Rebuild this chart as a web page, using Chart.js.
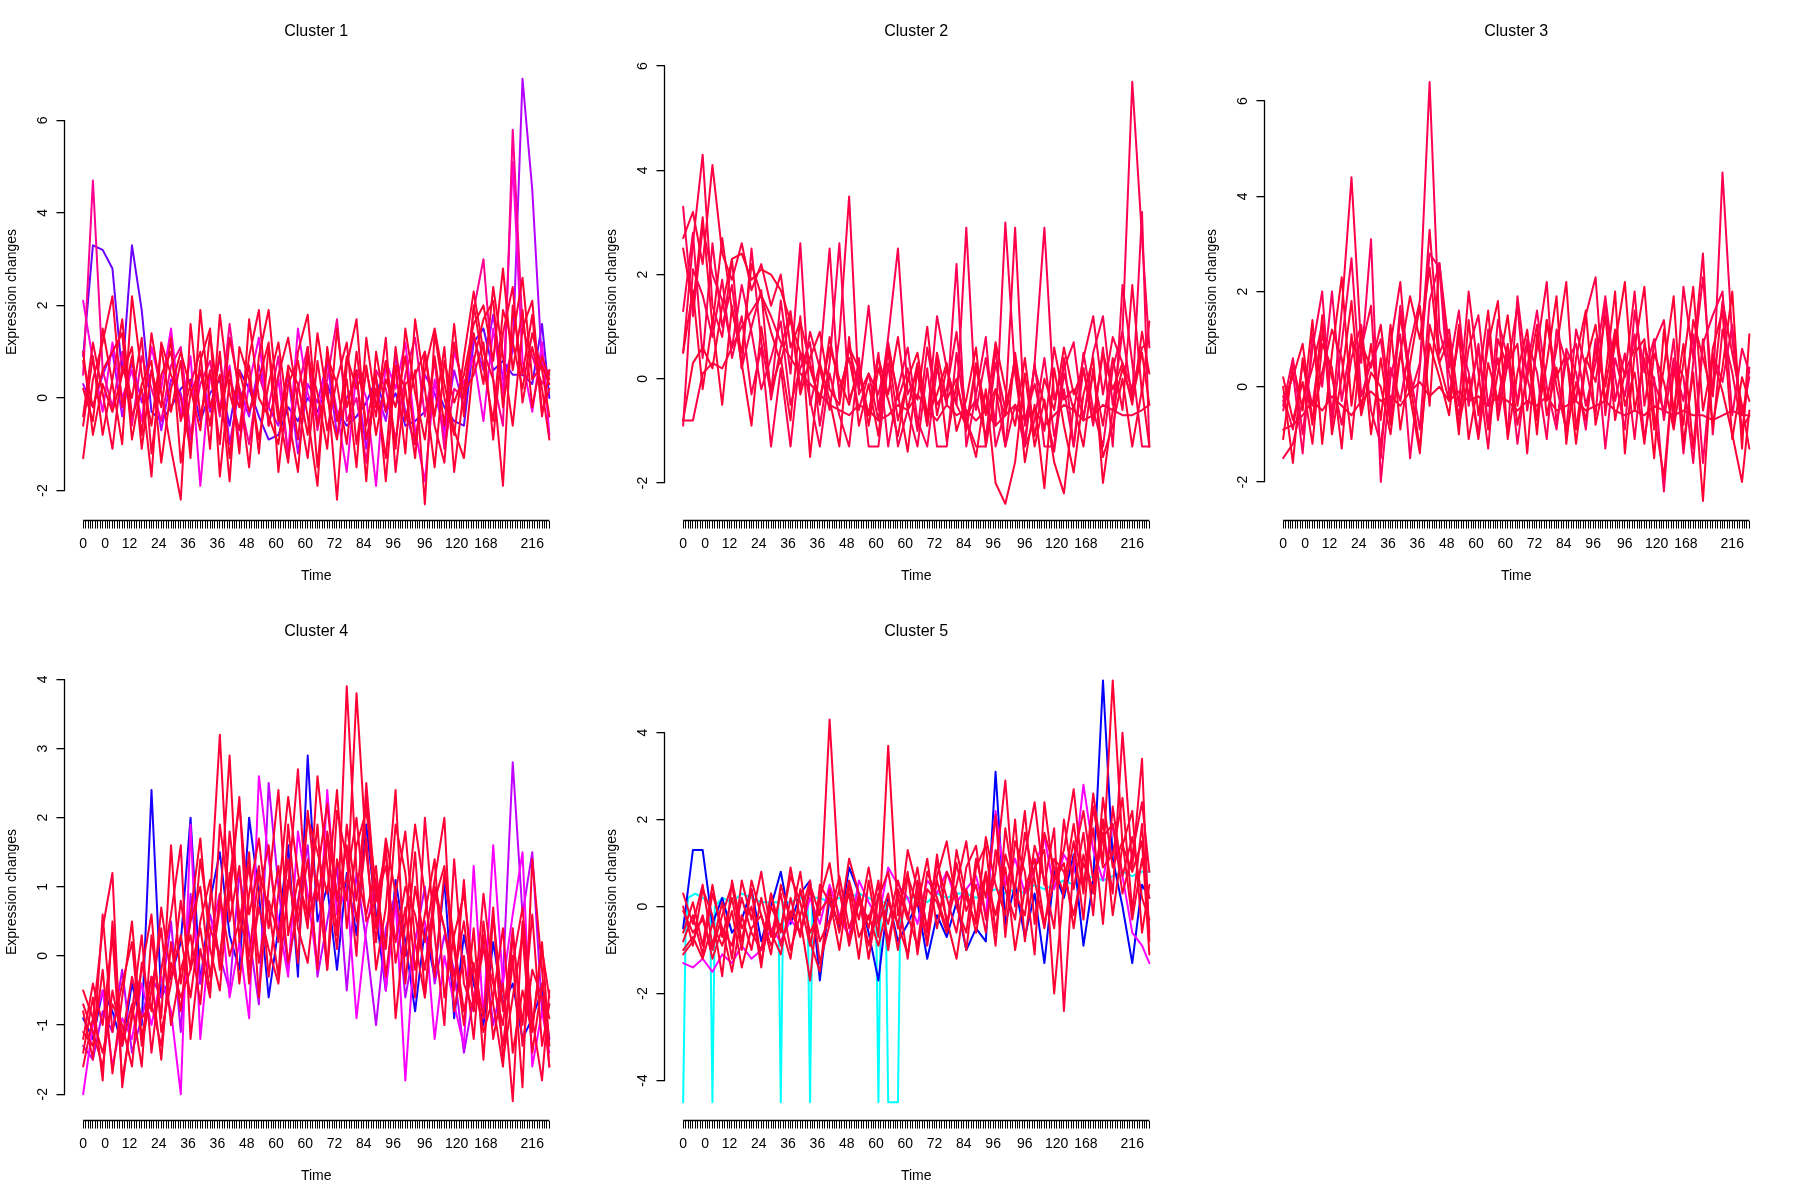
<!DOCTYPE html>
<html>
<head>
<meta charset="utf-8">
<title>Cluster expression changes</title>
<script src="https://cdn.jsdelivr.net/npm/chart.js@4.4.1/dist/chart.umd.min.js"></script>
<style>
  html, body { margin: 0; padding: 0; background: #fff; }
  #wrap { position: relative; width: 1800px; height: 1200px; }
  .panel { position: absolute; width: 600px; height: 600px; }
</style>
</head>
<body>
<div id="wrap">
  <div class="panel" style="left:0;top:0"><canvas id="c1" width="600" height="600"></canvas></div>
  <div class="panel" style="left:600px;top:0"><canvas id="c2" width="600" height="600"></canvas></div>
  <div class="panel" style="left:1200px;top:0"><canvas id="c3" width="600" height="600"></canvas></div>
  <div class="panel" style="left:0;top:600px"><canvas id="c4" width="600" height="600"></canvas></div>
  <div class="panel" style="left:600px;top:600px"><canvas id="c5" width="600" height="600"></canvas></div>
</div>
<script>
// time axis: 192 samples, values read every 4th sample
const nTimePoints = 192;
const sampleStep = 4;
const tickLabelIdx = [0, 9, 19, 31, 43, 55, 67, 79, 91, 103, 115, 127, 140, 153, 165, 184];
const tickLabelText = ['0', '0', '12', '24', '36', '36', '48', '60', '60', '72', '84', '96', '96', '120', '168', '216'];

// Cluster 1
const c1Violet = [0.9, 3.3, 3.2, 2.8, 0.5, 3.3, 1.9, -0.3, -0.5, -0.2,
  0.2, 0.4, -0.5, 0.1, 0.4, -0.6, 0.6, 0.2, -0.4, -0.9,
  -0.8, -0.2, -0.5, 0.0, -0.3, 0.3, -0.3, -0.6, -0.4, -0.1,
  0.4, -0.3, 0.1, -0.6, -0.5, -0.3, 0.3, -0.2, -0.5, -0.6,
  1.2, 1.5, 0.6, 0.8, 0.5, 0.5, 0.3, 1.6, 0.0];
const c1Purple = [0.3, -0.2, 0.5, 1.0, -0.4, 0.8, -0.1, 0.6, -0.7, 0.4,
  0.1, -0.9, 0.6, -0.3, 0.9, -1.0, 0.2, -0.4, 0.7, -0.2,
  -0.6, 0.5, -1.2, 0.3, -0.1, 0.8, -0.8, 0.0, 0.4, -1.1,
  0.2, -0.5, 0.9, -0.3, -1.0, 0.5, 0.1, -0.7, 0.6, -0.2,
  1.3, 0.6, 1.8, 0.4, 1.0, 6.9, 4.5, 0.7, 0.5];
const c1Magenta = [2.1, 0.8, -0.3, 1.2, 0.0, 0.6, -0.5, 1.1, 0.2, 1.5,
  -0.4, 0.9, -1.9, 0.5, -0.2, 0.7, -1.0, 0.3, 1.3, -0.6,
  0.4, -1.2, 1.5, 0.1, -0.5, 0.9, -0.3, -1.6, 0.6, 0.0,
  -1.9, 0.8, 0.2, 1.2, -0.7, -1.8, 0.4, -0.9, 1.0, 0.3,
  0.9, -0.5, 1.5, 0.1, 5.1, 0.8, -0.3, 1.2, -0.8];
const c1Pink = [0.5, 4.7, 0.6, -0.2, 1.0, -0.6, 0.9, 0.2, -0.5, 0.7,
  1.1, -0.8, 0.3, 0.8, -0.4, 1.6, 0.0, -1.0, 0.5, -0.2,
  0.9, -1.3, 0.2, 1.1, -0.7, 0.4, 1.7, -0.5, 0.0, -1.4,
  0.6, 0.2, -0.9, 0.5, 1.3, -0.4, 0.8, -1.1, 0.2, 0.0,
  1.9, 3.0, 0.4, -0.6, 5.8, 1.5, 0.9, 0.3, 0.6];
const c1RedA = [-1.3, 0.4, 1.2, 2.2, -0.2, 0.9, -0.8, 1.4, 0.1, -1.1,
  -2.2, 1.6, -0.4, 0.6, -1.0, 1.3, 0.2, -1.5, 0.9, 1.9,
  -0.3, -1.4, 1.0, 1.8, -0.6, 0.3, -2.2, 0.7, 1.7, -0.9,
  0.2, -1.3, 1.1, -0.5, 0.6, -2.3, 1.4, 0.0, -0.8, 0.9,
  2.3, 1.0, 0.4, -1.9, 2.0, 0.5, 1.8, -0.4, 0.6];
const c1RedB = [0.2, -0.5, 1.5, 0.3, -1.0, 2.2, 0.5, -0.6, 1.1, -0.3,
  0.8, -1.3, 1.9, -0.2, 0.5, -1.8, 1.1, 0.4, -0.9, 0.3,
  1.2, -0.4, -1.6, 0.9, 0.1, -1.1, 1.5, -0.2, 0.6, -1.8,
  1.0, -0.3, 0.7, -1.2, 1.7, 0.2, -1.5, 0.8, -0.1, 0.5,
  1.6, 2.0, 0.8, 2.8, 0.6, 1.9, -0.2, 0.9, 0.4];
const c1RedC = [-0.4, 1.2, 0.1, -1.1, 0.7, 0.0, 1.3, -1.2, 0.5, 1.0,
  -0.5, 0.3, 1.0, -1.1, 1.8, 0.1, -0.7, 0.9, 1.9, -0.6,
  0.5, 1.3, -0.1, -1.3, 0.8, -0.7, 0.4, 1.2, -1.0, 0.6,
  -0.4, 1.3, -1.6, 0.3, 0.5, 1.0, -0.6, -1.4, 1.2, 0.1,
  0.5, 1.2, -0.9, 1.4, 2.4, -0.1, 1.1, 0.2, -0.9];
const c1RedD = [0.8, -0.2, 0.6, 1.0, 1.4, -0.9, 0.3, 0.8, -1.4, 0.2,
  1.0, 0.2, -0.7, 1.4, -0.3, 0.6, -1.2, 1.7, 0.0, -0.4,
  -1.0, 0.7, 0.3, -0.8, 1.4, 0.0, -0.9, 0.9, 0.2, 0.7,
  -0.8, 0.4, -0.2, 0.9, -1.0, 0.6, 1.5, 0.3, -0.7, -1.3,
  0.8, 1.7, 2.1, -0.2, 1.3, 2.6, 0.4, 0.7, 0.3];
const c1RedE = [-0.6, 0.9, -0.8, 0.4, 1.7, -0.4, 0.2, -1.7, 1.2, 0.5,
  0.0, -1.1, 0.8, 1.5, -1.7, 0.4, -0.2, 0.7, -1.2, 1.1,
  -0.5, 0.6, -0.9, 1.1, -1.5, 0.9, 0.3, -1.0, 1.0, -0.6,
  0.5, -1.8, 0.7, 0.2, -1.3, 1.0, -0.4, 1.1, -1.6, 0.2,
  1.4, 0.3, 2.4, 0.9, -0.6, 1.5, 2.1, -0.3, 0.2];
const c1RedF = [1.0, -0.8, 0.3, -0.3, 0.5, 1.1, -1.1, 0.6, -0.2, 1.3,
  -1.4, 0.1, 0.6, -0.6, 1.0, -1.3, 0.6, -0.3, 0.4, 1.2,
  -1.6, 0.3, 0.8, -0.4, -1.9, 1.1, -0.5, 0.4, -1.5, 1.3,
  -0.2, 0.8, -1.1, 1.5, 0.1, -0.9, 0.9, -0.6, 1.6, -0.4,
  2.0, 0.7, -0.5, 1.9, 1.2, 0.2, 1.4, 0.6, -0.4];

// Cluster 2
const c2A = [3.3, 1.2, 2.9, 2.0, 1.5, 0.6, 1.8, 0.9, -0.2, 0.4,
  1.1, -0.5, 0.2, 0.7, -0.9, 0.3, 2.6, -0.4, 0.1, -0.7,
  0.5, -1.3, -0.2, 0.6, -0.8, -1.3, 0.2, -0.5, 2.2, -1.3,
  -0.3, 0.8, -1.3, -0.6, 0.3, -1.3, -0.8, 0.4, -1.1, -0.2,
  -1.3, 0.5, -0.6, -1.3, 0.2, 0.9, -0.4, 3.2, -1.3];
const c2B = [0.5, 2.6, 4.3, 1.4, 0.8, 2.3, 0.2, 1.0, 1.7, -0.4,
  0.6, 1.3, -0.2, 0.9, 0.2, -0.6, 0.8, 3.5, -0.3, 0.1,
  -0.8, 0.7, -0.4, 0.2, -1.0, 0.6, -0.5, -0.2, 0.9, -0.7,
  -0.4, -1.1, 0.3, -0.6, 2.9, -0.9, 0.2, -0.5, -1.4, 0.1,
  -0.6, 0.4, 1.2, -0.3, 0.8, 0.3, -0.2, 0.6, 0.7];
const c2C = [2.7, 3.2, 2.2, 4.1, 2.4, 1.9, 2.6, 1.7, 2.2, 1.4,
  2.0, 0.6, 1.1, 0.3, -0.5, 0.8, -0.2, 0.4, -0.6, 0.1,
  -0.3, 0.5, -0.8, 0.0, -0.4, 1.0, -0.7, 0.2, -0.5, -0.9,
  0.3, -0.6, -0.2, -1.3, 0.5, -0.8, -0.1, -1.0, 0.6, -0.4,
  -0.2, -0.7, 0.1, -0.9, 0.4, -0.6, 1.8, -0.3, 1.1];
const c2D = [1.3, 2.8, 0.4, 2.6, 1.0, 1.8, 0.2, 2.5, 0.7, -0.3,
  1.5, 0.1, 2.6, -0.5, 0.3, 2.5, -0.4, 0.6, -0.2, 1.4,
  -0.6, 0.8, 2.5, -0.3, 0.1, -0.8, 1.2, 0.2, -0.5, 2.9,
  -0.6, 0.4, -0.9, 3.0, 0.1, -1.2, 0.3, 2.9, -0.4, 0.2,
  0.7, -0.8, 0.5, 1.2, -0.5, 0.9, 5.7, 2.7, 0.6];
const c2E = [-0.8, -0.8, 0.1, 0.3, 0.2, 0.6, 1.0, 1.3, 1.6, 1.2,
  0.7, 0.4, 0.1, -0.1, -0.3, -0.5, -0.6, -0.7, -0.5, -0.6,
  -0.8, -0.7, -0.5, -0.6, -0.3, -0.6, -0.8, -0.5, -0.7, -0.6,
  -0.8, -0.6, -0.9, -0.7, -0.5, -0.8, -0.6, -0.9, -0.7, -0.5,
  -0.6, -0.8, -0.7, -0.5, -0.6, -0.7, -0.7, -0.6, -0.5];
const c2F = [-0.8, 0.3, 0.6, 0.2, 1.4, 2.3, 2.4, 1.9, 2.1, 2.0,
  1.7, 1.1, 0.5, 0.2, -0.4, 0.6, 0.0, -0.5, 0.3, -0.9,
  0.2, -0.4, -1.1, 0.0, 0.5, -0.7, -0.3, 0.3, -1.0, -0.4,
  0.6, -1.3, -0.2, -0.7, 0.4, -1.6, -0.5, -2.1, 0.2, -0.9,
  -1.8, -0.3, 0.4, -2.0, -0.6, 0.2, -0.4, 0.5, -0.5];
const c2G = [0.5, 1.7, -0.2, 1.1, -0.5, 1.4, 0.3, -0.9, 1.0, -0.2,
  0.4, -0.8, 1.2, -1.5, 0.3, -0.4, -1.3, 0.8, -0.9, -0.1,
  -1.1, 0.6, -0.3, -1.4, 0.2, -0.9, 0.4, -1.2, -0.1, -0.8,
  -1.5, -0.2, -2.0, -2.4, -1.6, 0.1, -1.3, -0.4, -1.6, -2.2,
  -0.5, -1.3, 0.2, -1.5, -0.9, 0.0, -1.3, -0.2, -1.3];
const c2H = [-0.9, 2.1, 1.6, 0.8, 1.9, 0.4, 1.2, -0.3, 0.6, -1.3,
  0.2, -1.3, 0.5, -0.4, -1.3, 0.1, -0.7, -1.3, 0.4, -1.3,
  -1.3, 0.3, -1.3, -0.6, -1.3, 0.2, -1.3, -1.3, 0.5, -0.8,
  -1.3, -1.3, 0.6, -1.3, -0.5, -1.3, 0.3, -1.3, -1.3, 0.4,
  -1.3, 0.2, -0.9, 0.6, -1.3, 1.8, 0.3, -1.3, -1.3];
const c2I = [2.5, 1.4, 3.1, 1.0, 2.7, 1.3, 0.5, 2.2, 1.6, 0.9,
  0.3, 1.2, -0.3, 0.4, 0.9, -0.2, -0.5, 0.6, 0.2, -0.7,
  0.4, -0.3, 0.8, -0.6, 0.3, -0.9, 0.5, -0.4, 0.0, -1.0,
  0.2, -0.7, 0.7, -0.2, -0.9, 0.4, -1.1, 0.0, -0.6, 0.6,
  -0.3, 0.2, -0.8, 0.5, -0.2, 0.3, -0.5, 0.9, 0.1];

// Cluster 3
const c3A = [-0.2, -0.9, 0.5, -0.4, 1.1, 0.2, -0.8, 0.6, 1.3, -0.5,
  -1.2, 0.4, -0.3, 0.9, 1.8, 6.4, 1.2, 0.3, -0.6, 0.8,
  1.5, -0.4, 0.6, -1.0, 1.9, 0.2, -0.7, 1.4, 0.0, -0.9,
  1.2, 0.4, -0.6, 1.8, -0.3, 0.7, -1.1, 0.9, 0.1, -0.5,
  1.0, -1.4, 0.5, 2.3, -0.2, 4.5, 1.0, -0.6, 0.2];
const c3B = [-1.5, -1.2, -0.3, 0.4, 1.3, -0.6, 1.6, 4.4, 0.8, 1.7,
  -1.5, 0.9, 2.2, -0.2, 0.5, 3.3, 0.7, 1.2, -0.4, 2.0,
  0.3, -1.3, 1.0, 0.4, 1.7, -0.5, 0.8, 2.2, -0.8, 0.6,
  -0.3, 1.5, 2.3, -0.6, 1.1, 0.2, 2.0, -0.4, 0.9, 1.4,
  -0.8, 2.1, 0.6, 2.8, -1.0, 1.2, 0.3, -0.9, -0.6];
const c3C = [-0.5, 0.3, -1.4, 1.1, 0.0, 2.0, -0.3, 1.0, 0.5, 3.1,
  -2.0, 0.2, 1.1, -1.5, 0.4, 2.8, 2.5, -0.2, 1.0, 0.3,
  -1.0, 1.2, -0.5, 0.7, -1.2, 0.4, 1.6, 0.0, -0.9, 0.8,
  0.3, -0.9, 1.0, -1.3, 0.6, -0.2, 1.1, -1.1, 0.2, -2.2,
  0.5, -0.3, 1.1, -1.6, 0.7, 0.1, 1.3, -1.0, 0.4];
const c3D = [-0.9, -0.8, -0.6, -0.3, -0.5, -0.2, -0.4, -0.6, -0.3, -0.1,
  -0.3, -0.2, -0.4, -0.1, 0.1, -0.2, 0.0, -0.3, -0.1, -0.3,
  -0.2, -0.4, -0.2, -0.3, -0.5, -0.3, -0.4, -0.2, -0.5, -0.4,
  -0.3, -0.5, -0.4, -0.3, -0.5, -0.6, -0.5, -0.6, -0.4, -0.5,
  -0.6, -0.5, -0.6, -0.6, -0.7, -0.6, -0.5, -0.6, -0.6];
const c3E = [0.0, -1.6, 0.6, -0.8, 1.5, -1.0, 0.2, 1.8, -0.5, 0.9,
  -0.7, 1.3, -0.9, 0.5, 1.7, -0.4, 2.6, 0.8, -1.0, 1.4,
  -0.6, 0.9, 1.8, -1.1, 0.3, 1.2, -0.7, 0.5, 1.9, -1.2,
  0.6, 1.6, -0.8, 0.2, 2.0, -1.4, 0.7, 1.0, -0.9, 0.4,
  1.9, -1.2, 0.3, -2.4, 0.8, 1.6, -1.1, 0.2, -0.3];
const c3F = [-1.1, 0.5, -0.5, 1.4, -1.2, 0.7, 2.3, -0.4, 1.2, -1.0,
  0.6, -0.8, 1.5, 0.1, -1.3, 0.9, 0.2, -0.6, 1.3, -0.2,
  0.8, -0.9, 0.3, 1.5, -0.4, 0.9, -1.0, 1.4, 0.2, 0.7,
  -1.2, 0.5, 1.3, -0.3, 0.9, 2.2, -0.5, 0.6, -1.5, 1.2,
  -0.5, 0.9, -1.3, 1.0, -0.8, 0.4, 2.0, -1.3, 1.1];
const c3G = [-0.3, 0.2, 0.9, -0.7, 0.3, 1.2, 0.6, -1.1, 0.9, 0.4,
  1.3, -0.4, 0.7, 1.9, 1.0, 2.5, 0.5, -0.3, 1.1, -1.1,
  0.1, 1.6, -0.7, 0.5, 0.9, -1.4, 1.1, -0.3, 0.8, 2.2,
  -0.9, 0.6, 0.1, 1.5, -0.7, 0.3, 0.8, 2.1, -0.6, -1.9,
  0.4, -0.8, 1.4, 0.6, -0.2, 1.8, 0.7, -0.4, -1.3];
const c3H = [-0.4, 0.6, -1.0, 0.8, 2.0, -0.8, 0.9, 2.7, -0.2, 0.5,
  1.0, -0.6, 1.7, 0.3, -0.9, 1.8, 2.6, 0.4, 1.6, -0.4,
  0.9, -0.8, 1.4, 0.6, -0.3, 1.0, 0.3, -1.1, 1.2, 0.5,
  0.9, -0.4, 0.5, 1.9, 0.2, -0.9, 1.6, 0.3, 1.0, -0.7,
  0.6, 0.2, -1.6, 0.9, 1.5, 2.0, -0.6, 0.8, 0.3];
const c3I = [0.2, -0.7, 0.1, -1.2, 0.9, 0.4, -1.3, 1.1, -0.6, 0.3,
  0.0, -1.0, 0.7, -0.2, -1.4, 1.3, 0.5, 1.0, -0.8, 0.2,
  -1.1, 0.5, -0.3, 0.9, -0.8, 0.2, 1.3, -0.6, 0.4, -1.0,
  0.1, -0.7, 0.8, 0.0, 1.2, -0.4, 0.3, -1.2, 0.7, 0.1,
  -0.9, 0.5, 2.1, -0.5, 0.6, -0.1, -1.0, -2.0, -0.5];

// Cluster 4
const c4Blue = [-0.9, -1.2, -0.5, -0.8, -1.3, -0.4, -1.0, 2.4, -0.6, -0.3,
  0.2, 2.0, -0.4, 0.8, 1.5, 0.3, -0.2, 2.0, 0.9, -0.6,
  0.4, 1.6, -0.3, 2.9, 0.5, 1.0, -0.2, 1.2, 0.3, 1.9,
  0.6, -0.5, 1.1, 0.2, -0.8, 0.4, -0.3, 1.1, -0.9, 0.3,
  -0.4, -1.0, 0.2, -0.7, -0.4, -1.2, -0.9, -0.5, -1.2];
const c4Purple = [-1.3, -1.5, -0.8, -1.1, -0.2, -1.4, -0.9, -0.3, -0.6, 0.5,
  -1.1, 0.9, -0.4, 0.6, 0.0, -0.5, 1.2, 0.3, -0.7, 2.5,
  1.0, -0.2, 0.8, 1.6, -0.3, 0.5, 1.3, -0.5, 1.2, 0.2,
  -1.0, 0.4, 0.9, -0.6, 0.2, 1.0, -0.4, 0.3, -0.2, -1.4,
  -0.6, 0.2, -1.0, -0.3, 2.8, 0.6, 1.5, -0.8, -0.7];
const c4Magenta = [-2.0, -1.0, -0.5, -1.6, -0.9, -1.2, -0.4, -1.0, -0.3, -0.8,
  -2.0, 1.9, -1.2, 0.3, 0.9, -0.6, 0.2, -0.9, 2.6, 1.4,
  0.5, -0.3, 1.8, 0.9, -0.2, 2.4, 0.6, 1.0, -0.9, 0.4,
  1.1, -0.5, 0.8, -1.8, 0.3, 0.5, -1.2, 0.0, -0.7, -1.3,
  1.3, -0.9, 1.6, -0.4, 0.6, 1.5, -1.6, -0.8, -1.4];
const c4RedA = [-0.8, -1.5, 0.6, -1.1, -0.4, 0.2, -1.3, -0.5, 0.4, -1.0,
  -0.2, 0.3, -0.7, 0.8, 3.2, 0.5, 1.3, -0.4, 0.9, 1.6,
  0.2, 1.4, -0.1, 2.1, 0.8, 1.7, 0.3, 3.9, 1.2, 0.6,
  1.3, -0.3, 0.9, 1.8, 0.2, -0.6, 1.0, 0.4, -0.5, 1.1,
  -0.8, 0.3, -1.2, -0.4, -2.1, 0.5, -1.0, 0.1, -0.6];
const c4RedB = [-1.4, -0.6, -1.8, 0.5, -1.3, -0.7, -1.6, 0.3, -0.9, 1.6,
  -0.4, 0.5, 1.0, -0.3, 0.7, 2.9, 0.2, 1.5, -0.6, 1.0,
  2.4, 0.3, 1.1, 0.6, 1.9, -0.2, 1.4, 0.8, 3.8, 1.5,
  0.2, 1.6, -0.9, 0.5, 1.9, 0.9, -0.3, 1.2, 0.1, -1.0,
  0.4, -1.5, 0.6, -0.8, 0.0, -1.9, 1.4, -0.2, -1.6];
const c4RedC = [-1.6, -0.9, 0.4, 1.2, -1.9, -0.8, 0.3, -1.4, -0.2, 0.6,
  1.6, -1.2, 0.1, -0.6, 1.9, 0.8, 2.3, -0.2, 0.7, 0.1,
  -0.4, 1.0, 2.7, 0.5, 1.1, -0.2, 2.1, 1.4, 0.0, 2.5,
  0.8, 1.5, -0.1, 0.7, -0.6, 2.0, 0.3, -1.0, 1.4, -0.4,
  -0.8, 0.9, -0.3, -1.3, -0.1, 0.7, -0.9, -1.8, -0.5];
const c4RedD = [-1.1, -1.3, -0.2, -1.7, -0.6, 0.5, -1.2, -0.3, -1.5, 0.2,
  -0.8, 0.6, 1.7, 0.1, -0.5, 1.2, -0.4, 0.9, 1.7, 0.4,
  1.3, -0.1, 0.7, 2.0, 1.5, 0.9, 2.4, 0.4, 1.6, 2.1,
  1.0, 0.1, 1.9, 1.2, -0.2, 0.6, 1.4, -0.6, 0.3, 0.9,
  -0.3, -1.1, -0.6, 0.4, -1.4, -0.5, -1.1, 0.2, -1.3];
const c4RedE = [-0.5, -0.9, -1.4, -0.7, -1.0, -1.6, -0.1, -0.8, 0.7, -0.3,
  0.3, -0.6, 0.5, 1.1, -0.2, 1.8, 0.6, 0.0, 1.2, 0.7,
  -0.3, 1.9, 0.4, -0.1, 1.2, 2.2, 0.8, 1.6, 0.5, 1.7,
  -0.2, 0.7, 2.4, -0.4, 1.0, 0.2, 1.1, 2.0, -0.8, 0.0,
  -1.2, 0.5, -0.7, -1.6, 0.3, -1.0, 0.6, -1.3, -0.7];
const c4RedF = [-1.2, -0.4, -1.0, 0.3, -1.8, -0.9, -0.2, 0.6, -1.1, -0.4,
  0.8, -0.2, 1.4, 0.4, 0.0, 1.1, 2.2, 0.6, 1.3, -0.3,
  0.9, 2.3, 1.2, 0.4, 2.6, 1.3, 0.1, 1.9, 0.8, 2.3,
  0.4, 1.7, 0.9, 0.0, 1.5, -0.6, 0.8, 1.3, 0.2, -0.8,
  -0.1, -0.9, 0.7, -1.5, -0.6, 0.3, -1.4, -0.4, -0.9];
const c4RedG = [-0.7, -1.1, -1.6, -0.5, -1.2, -0.3, -0.9, -0.7, -1.3, -0.1,
  -0.6, -0.2, 0.4, -0.5, 0.9, 0.0, 0.5, 1.3, -0.1, 0.8,
  0.3, 1.1, 0.5, 1.4, -0.2, 1.8, 0.9, 1.1, 2.0, 0.5,
  0.8, 1.3, 0.2, 1.0, 0.6, -0.2, 0.9, 0.4, -0.3, 0.5,
  -0.7, 0.1, -0.4, -1.0, 0.4, -1.3, -0.2, -0.6, -1.6];

// Cluster 5 (cyan line read at its own time points: [sample, value])
const c5CyanPoints = [[0, -4.5], [1, -0.6], [2, 0.2], [5, 0.3], [8, 0.2], [11, 0.1], [12, -4.5], [13, 0.0],
  [16, 0.2], [20, 0.1], [24, 0.3], [28, 0.2], [32, 0.1], [36, 0.1], [39, 0.1], [40, -4.5], [41, 0.1],
  [44, 0.1], [48, 0.2], [51, 0.1], [52, -4.5], [53, 0.2], [56, 0.2], [60, 0.1], [64, 0.2], [68, 0.2],
  [72, 0.3], [76, 0.2], [79, 0.1], [80, -4.5], [81, 0.1], [83, 0.1], [84, -4.5], [88, -4.5], [89, 0.1],
  [92, 0.2], [96, 0.2], [100, 0.1], [104, 0.3], [108, 0.2], [112, 0.3], [116, 0.3], [120, 0.2], [124, 0.3],
  [128, 0.4], [132, 0.3], [136, 0.4], [140, 0.3], [144, 0.5], [148, 0.4], [152, 0.5], [156, 0.6], [160, 0.5],
  [164, 0.6], [168, 0.7], [172, 0.6], [176, 0.7], [180, 0.8], [184, 0.7], [188, 0.8], [191, 0.8]];
const c5Blue = [-0.5, 1.3, 1.3, -0.4, 0.2, -0.6, -0.3, 0.4, -0.8, 0.0,
  0.8, -0.4, 0.3, 0.6, -1.7, 0.2, -0.5, 0.9, 0.3, -0.6,
  -1.7, 0.2, -0.8, -0.4, 0.1, -1.2, -0.2, -0.7, 0.1, -1.0,
  -0.5, -0.8, 3.1, -0.4, 0.5, -0.7, 0.3, -1.3, 0.8, 0.2,
  1.2, -0.9, 0.6, 5.2, 1.1, 0.0, -1.3, 0.5, 0.2];
const c5Magenta = [-1.3, -1.4, -1.2, -1.5, -1.1, -1.3, -0.9, -1.2, -1.0, -0.5,
  -0.8, -0.3, -0.6, 0.2, -0.4, 0.5, -0.2, -0.7, 0.6, 0.1,
  -0.3, 0.9, 0.5, 0.2, -0.4, 0.6, 0.3, 0.8, 0.1, 0.4,
  0.7, -0.2, 2.2, 0.5, 1.1, 0.3, 0.9, 1.6, 0.4, 1.2,
  0.8, 2.8, 1.3, 0.6, 1.9, 0.7, -0.6, -0.9, -1.3];
const c5RedA = [0.3, -0.4, 0.5, -0.9, 0.1, -1.2, 0.6, -0.3, 0.8, -0.6,
  -1.1, 0.2, -0.7, 0.5, -0.2, 4.3, 0.4, -0.8, 0.3, -0.5,
  0.6, -1.0, 0.4, -0.3, 0.9, -0.6, 1.2, -0.4, 0.5, 1.5,
  -0.3, 0.8, -0.9, 1.8, 0.3, -0.2, 1.4, 0.6, -0.5, 2.0,
  0.4, 1.7, -0.2, 2.5, 0.9, 1.5, -0.3, 1.1, 0.2];
const c5RedB = [-0.1, -0.6, -0.3, -1.0, -0.2, 0.5, -0.8, 0.4, -1.3, 0.0,
  -0.5, 0.7, 0.1, -0.9, 0.2, 1.0, -0.4, 0.3, -1.2, 0.6,
  -0.7, 3.7, -0.2, 0.8, -1.1, 0.4, 0.1, -0.6, 1.3, 0.2,
  -0.4, 1.6, 0.5, -0.2, 2.0, -0.8, 0.9, 1.3, -2.0, 0.5,
  1.9, 0.3, 2.6, 1.0, 5.2, 1.4, 2.2, -0.6, 0.5];
const c5RedC = [-0.8, -0.2, -1.1, 0.3, -0.5, -1.5, -0.2, -1.0, 0.2, -0.7,
  0.3, -1.0, -0.2, 0.6, -1.3, -0.4, 0.4, -0.9, 0.1, -0.3,
  0.5, -0.8, 0.3, -1.2, 0.6, -0.5, 1.0, 0.2, -0.6, 0.9,
  1.4, -0.3, 0.8, 2.9, 0.0, 1.2, 2.4, 0.5, 1.8, -2.4,
  1.1, 2.2, 0.6, 1.7, 0.3, 4.0, 0.9, 3.4, -0.8];
const c5RedD = [-1.0, -0.7, -1.2, -0.4, -0.9, -0.1, -1.4, -0.5, -0.2, -0.9,
  -0.4, -1.2, 0.4, -0.6, -0.1, 0.2, -1.0, 0.5, -0.7, -0.2,
  -0.9, 0.1, -0.4, -1.1, 0.3, -0.8, 0.6, -0.3, -1.2, 0.4,
  -0.6, 0.7, -0.2, 0.9, -1.0, 0.4, 1.1, -0.4, 0.6, 1.0,
  -0.5, 1.2, 0.3, 2.0, -0.2, 1.4, 0.8, 1.5, -1.1];
const c5RedE = [0.0, -0.9, 0.4, -0.2, -1.6, 0.6, -0.5, 0.0, -1.4, 0.3,
  -0.6, 0.9, -0.3, -1.7, 0.5, 0.1, -0.4, 1.1, 0.3, -1.2,
  0.2, 0.8, -0.5, 1.3, 0.4, -0.9, 0.7, 1.5, 0.0, -0.6,
  1.1, 0.2, 2.1, -0.7, 1.5, 0.8, -1.1, 2.4, 0.6, 1.3,
  2.7, 0.5, 1.8, -0.4, 2.3, 0.7, 1.6, 0.2, -0.3];
const c5RedF = [-0.6, 0.1, -0.9, 0.5, -0.7, 0.2, -1.0, 0.6, -0.2, -1.1,
  0.5, -0.3, 0.8, -0.8, -1.5, 0.4, -0.6, 0.6, -0.3, 0.9,
  -0.4, 0.3, -1.0, 0.7, 0.0, 1.1, -0.5, 0.8, 0.3, -1.0,
  0.9, 1.4, -0.6, 1.2, 0.4, 2.2, -0.4, 1.7, 0.9, 0.3,
  1.5, -0.3, 2.3, 0.9, 1.2, 2.5, -0.1, 1.9, -0.6];
const c5RedG = [-1.1, -0.8, -0.2, -1.2, -0.5, -0.9, 0.2, -0.6, -1.0, 0.3,
  -0.9, -0.1, -0.6, 0.4, -0.8, -0.3, 0.7, -0.5, 0.2, -0.9,
  0.3, -0.4, 0.6, -0.2, -0.9, 0.8, 0.2, -0.5, 1.0, -0.1,
  0.5, -0.6, 1.3, 0.4, -0.3, 1.7, 0.6, -0.5, 1.1, 0.8,
  -0.2, 1.0, 0.4, 1.6, 1.9, 0.3, 1.2, 2.4, 0.8];

// y axis ranges (R pads the data range by 4%) and tick values
const c1YRange = [-2.65, 7.23], c1YTicks = [-2, 0, 2, 4, 6];
const c2YRange = [-2.72, 6.05], c2YTicks = [-2, 0, 2, 4, 6];
const c3YRange = [-2.81, 6.79], c3YTicks = [-2, 0, 2, 4, 6];
const c4YRange = [-2.38, 4.23], c4YTicks = [-2, -1, 0, 1, 2, 3, 4];
const c5YRange = [-4.92, 5.59], c5YTicks = [-4, -2, 0, 2, 4];

const FONT = '"Liberation Sans", Arial, Helvetica, sans-serif';

function sampled(values) {
  return values.map((v, i) => ({ x: Math.min(i * sampleStep, nTimePoints - 1), y: v }));
}
function paired(points) {
  return points.map(([x, y]) => ({ x, y }));
}

// draws R-style axis lines (first to last tick) and the panel title
const rAxes = {
  id: 'rAxes',
  afterDraw(chart, args, opts) {
    const { ctx, chartArea, scales } = chart;
    const yt = opts.yTicks;
    ctx.save();
    ctx.strokeStyle = '#000';
    ctx.lineWidth = 1.3;
    ctx.beginPath();
    ctx.moveTo(chartArea.left, scales.y.getPixelForValue(yt[0]));
    ctx.lineTo(chartArea.left, scales.y.getPixelForValue(yt[yt.length - 1]));
    ctx.moveTo(scales.x.getPixelForValue(0), chartArea.bottom);
    ctx.lineTo(scales.x.getPixelForValue(nTimePoints - 1), chartArea.bottom);
    ctx.stroke();
    ctx.fillStyle = '#000';
    ctx.font = '16px ' + FONT;
    ctx.textAlign = 'center';
    ctx.textBaseline = 'middle';
    ctx.fillText(opts.title, (chartArea.left + chartArea.right) / 2, 32);
    ctx.restore();
  },
};

function drawPanel(id, title, yRange, yTicks, series) {
  const xPad = (nTimePoints - 1) * 0.04;
  const datasets = series.map(([color, pts], k) => ({
    data: pts,
    borderColor: color,
    borderWidth: 2,
    pointRadius: 0,
    tension: 0,
    borderJoinStyle: 'round',
    borderCapStyle: 'round',
    order: series.length - k,
  }));

  new Chart(document.getElementById(id), {
    type: 'line',
    data: { datasets },
    plugins: [rAxes],
    options: {
      responsive: false,
      animation: false,
      devicePixelRatio: 1,
      events: [],
      layout: { padding: { left: 0, top: 63.5, right: 32, bottom: 0 } },
      plugins: {
        legend: { display: false },
        tooltip: { enabled: false },
        rAxes: { title, yTicks },
      },
      scales: {
        x: {
          type: 'linear',
          min: -xPad,
          max: nTimePoints - 1 + xPad,
          afterFit: (s) => { s.height = 79.5; },
          afterBuildTicks: (s) => {
            s.ticks = Array.from({ length: nTimePoints }, (_, i) => ({ value: i }));
          },
          border: { display: false },
          grid: { drawOnChartArea: false, drawTicks: true, tickLength: 8, color: '#000', lineWidth: 1 },
          ticks: {
            autoSkip: false,
            minRotation: 0,
            maxRotation: 0,
            padding: 7,
            color: '#000',
            font: { family: FONT, size: 14 },
            callback: (v) => {
              const at = tickLabelIdx.indexOf(v);
              return at >= 0 ? tickLabelText[at] : '';
            },
          },
          title: {
            display: true,
            text: 'Time',
            color: '#000',
            font: { family: FONT, size: 14 },
            padding: { top: 0, bottom: 15 },
          },
        },
        y: {
          min: yRange[0],
          max: yRange[1],
          afterFit: (s) => { s.width = 64.5; },
          afterBuildTicks: (s) => { s.ticks = yTicks.map((v) => ({ value: v })); },
          border: { display: false },
          grid: { drawOnChartArea: false, drawTicks: true, tickLength: 8, color: '#000', lineWidth: 1.3 },
          ticks: {
            minRotation: 90,
            maxRotation: 90,
            crossAlign: 'center',
            padding: 7,
            color: '#000',
            font: { family: FONT, size: 14 },
            callback: (v) => String(v),
          },
          title: {
            display: true,
            text: 'Expression changes',
            color: '#000',
            font: { family: FONT, size: 14 },
            padding: { top: 3.3, bottom: 0 },
          },
        },
      },
    },
  });
}

window.addEventListener('load', () => {
  if (typeof Chart === 'undefined') return;

  drawPanel('c1', 'Cluster 1', c1YRange, c1YTicks, [
    ['#6A00FF', sampled(c1Violet)],
    ['#B400FF', sampled(c1Purple)],
    ['#FF00E0', sampled(c1Magenta)],
    ['#FF0090', sampled(c1Pink)],
    ['#FF0038', sampled(c1RedA)],
    ['#FF0033', sampled(c1RedB)],
    ['#FF003C', sampled(c1RedC)],
    ['#FF0030', sampled(c1RedD)],
    ['#FF0036', sampled(c1RedE)],
    ['#FF0032', sampled(c1RedF)],
  ]);

  drawPanel('c2', 'Cluster 2', c2YRange, c2YTicks, [
    ['#FF0055', sampled(c2A)],
    ['#FF0048', sampled(c2B)],
    ['#FF0040', sampled(c2C)],
    ['#FF0050', sampled(c2D)],
    ['#FF0045', sampled(c2E)],
    ['#FF0035', sampled(c2F)],
    ['#FF0038', sampled(c2G)],
    ['#FF004C', sampled(c2H)],
    ['#FF003A', sampled(c2I)],
  ]);

  drawPanel('c3', 'Cluster 3', c3YRange, c3YTicks, [
    ['#FF0050', sampled(c3A)],
    ['#FF0048', sampled(c3B)],
    ['#FF0060', sampled(c3C)],
    ['#FF0040', sampled(c3D)],
    ['#FF0035', sampled(c3E)],
    ['#FF0030', sampled(c3F)],
    ['#FF003A', sampled(c3G)],
    ['#FF0055', sampled(c3H)],
    ['#FF0038', sampled(c3I)],
  ]);

  drawPanel('c4', 'Cluster 4', c4YRange, c4YTicks, [
    ['#1A00FF', sampled(c4Blue)],
    ['#C000FF', sampled(c4Purple)],
    ['#FF00FF', sampled(c4Magenta)],
    ['#FF0038', sampled(c4RedA)],
    ['#FF0033', sampled(c4RedB)],
    ['#FF003C', sampled(c4RedC)],
    ['#FF0030', sampled(c4RedD)],
    ['#FF0036', sampled(c4RedE)],
    ['#FF0034', sampled(c4RedF)],
    ['#FF003A', sampled(c4RedG)],
  ]);

  drawPanel('c5', 'Cluster 5', c5YRange, c5YTicks, [
    ['#00FFFF', paired(c5CyanPoints)],
    ['#0000FF', sampled(c5Blue)],
    ['#FF00FF', sampled(c5Magenta)],
    ['#FF0038', sampled(c5RedA)],
    ['#FF0033', sampled(c5RedB)],
    ['#FF003C', sampled(c5RedC)],
    ['#FF0030', sampled(c5RedD)],
    ['#FF0036', sampled(c5RedE)],
    ['#FF0034', sampled(c5RedF)],
    ['#FF003A', sampled(c5RedG)],
  ]);
});
</script>
</body>
</html>
